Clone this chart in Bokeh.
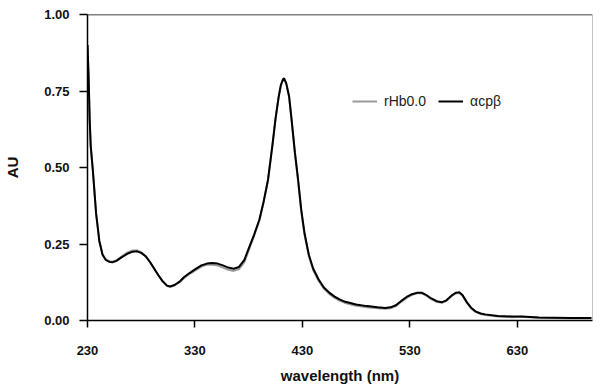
from bokeh.plotting import figure
from bokeh.models import FixedTicker, Legend, LegendItem, Span, NumeralTickFormatter
from bokeh.embed import file_html
from bokeh.resources import INLINE

# Absorbance spectra (wavelength in nm, absorbance in AU)
wavelength = [230, 231, 232, 233, 235, 238, 241, 244, 247, 250, 253, 257, 262, 267, 272,
              276, 280, 284, 288, 292, 296, 300, 304, 307, 311, 316, 320, 325, 330, 336,
              341, 346, 351, 356, 361, 366, 371, 376, 380, 385, 390, 394, 398, 402, 405,
              408, 410, 412, 413, 415, 417.6, 420, 423, 426, 429, 432, 436, 440, 445, 450,
              455, 460, 465, 470, 480, 490, 500, 507, 512, 517, 522, 527, 532, 537, 541,
              545, 550, 555, 560, 564, 569, 573, 576, 579, 583, 587, 591, 596, 600, 612,
              625, 634, 650, 665, 680, 699]
acpb = [0.90, 0.80, 0.66, 0.57, 0.49, 0.35, 0.26, 0.215, 0.198, 0.192, 0.190, 0.195, 0.207, 0.218, 0.225,
        0.226, 0.221, 0.210, 0.192, 0.170, 0.148, 0.128, 0.114, 0.111, 0.116, 0.128, 0.142, 0.155, 0.167, 0.180,
        0.186, 0.188, 0.186, 0.180, 0.173, 0.169, 0.175, 0.198, 0.235, 0.280, 0.330, 0.390, 0.460, 0.570, 0.660,
        0.733, 0.770, 0.789, 0.791, 0.775, 0.733, 0.655, 0.550, 0.460, 0.360, 0.285, 0.215, 0.170, 0.135, 0.108,
        0.091, 0.078, 0.068, 0.061, 0.052, 0.047, 0.043, 0.041, 0.043, 0.050, 0.064, 0.077, 0.086, 0.091, 0.091,
        0.084, 0.072, 0.063, 0.060, 0.066, 0.082, 0.091, 0.092, 0.083, 0.060, 0.042, 0.030, 0.023, 0.020, 0.015,
        0.013, 0.013, 0.010, 0.009, 0.008, 0.008]
rhb00 = [0.90, 0.80, 0.66, 0.57, 0.49, 0.35, 0.26, 0.216, 0.200, 0.194, 0.192, 0.197, 0.210, 0.222, 0.229,
         0.229, 0.223, 0.211, 0.192, 0.169, 0.147, 0.127, 0.113, 0.110, 0.115, 0.126, 0.139, 0.152, 0.163, 0.176,
         0.182, 0.183, 0.180, 0.173, 0.166, 0.162, 0.168, 0.191, 0.229, 0.276, 0.327, 0.388, 0.458, 0.568, 0.658,
         0.731, 0.768, 0.787, 0.789, 0.773, 0.731, 0.652, 0.547, 0.456, 0.355, 0.280, 0.210, 0.165, 0.130, 0.104,
         0.087, 0.074, 0.064, 0.057, 0.048, 0.043, 0.040, 0.038, 0.040, 0.047, 0.061, 0.074, 0.084, 0.089, 0.089,
         0.082, 0.070, 0.061, 0.058, 0.064, 0.080, 0.089, 0.090, 0.081, 0.058, 0.040, 0.028, 0.021, 0.018, 0.013,
         0.011, 0.012, 0.009, 0.008, 0.007, 0.007]

x_ticks = [230, 330, 430, 530, 630]
y_ticks = [0.0, 0.25, 0.5, 0.75, 1.0]

p = figure(frame_width=505, frame_height=306, x_range=(230, 700), y_range=(0, 1.0),
           output_backend="svg", toolbar_location=None,
           min_border_left=87, min_border_right=1, min_border_top=14, min_border_bottom=60)
p.outline_line_color = None
p.xgrid.visible = False
p.ygrid.visible = False
p.background_fill_color = "white"
p.border_fill_color = "white"

g = p.line(wavelength, rhb00, line_color="#9a9a9a", line_width=2)
b = p.line(wavelength, acpb, line_color="black", line_width=2)

# top and right frame lines
p.add_layout(Span(location=1.0, dimension="width", line_color="black", line_width=1.5))
p.add_layout(Span(location=700, dimension="height", line_color="#888888", line_width=1))

for ax in (p.xaxis[0], p.yaxis[0]):
    ax.axis_line_color = "black"
    ax.axis_line_width = 1.5
    ax.major_tick_line_color = "black"
    ax.major_tick_line_width = 1.5
    ax.major_tick_in = 0
    ax.minor_tick_line_color = None
    ax.major_label_text_font = "Liberation Sans"
    ax.major_label_text_font_style = "bold"
    ax.major_label_text_font_size = "13px"
    ax.major_label_text_color = "#111111"
    ax.axis_label_text_font = "Liberation Sans"
    ax.axis_label_text_font_style = "bold"
    ax.axis_label_text_font_size = "15px"
    ax.axis_label_text_color = "#111111"

p.xaxis.ticker = FixedTicker(ticks=x_ticks)
p.yaxis.ticker = FixedTicker(ticks=y_ticks)
p.yaxis.formatter = NumeralTickFormatter(format="0.00")
p.xaxis.major_tick_out = 7
p.yaxis.major_tick_out = 8
p.xaxis.major_label_standoff = 18
p.yaxis.major_label_standoff = 10
p.xaxis.axis_label = "wavelength (nm)"
p.yaxis.axis_label = "AU"
p.xaxis.axis_label_standoff = 9
p.yaxis.axis_label_standoff = 20

legend = Legend(items=[LegendItem(label="rHb0.0", renderers=[g]),
                       LegendItem(label="αcpβ", renderers=[b])],
                orientation="horizontal", location=(265, 209),
                border_line_color=None, background_fill_alpha=0,
                padding=0, margin=0, spacing=12, label_standoff=7,
                glyph_width=25, glyph_height=20,
                label_text_font="Liberation Sans", label_text_font_size="14px",
                label_text_color="#222222")
p.add_layout(legend)

open("out.html", "w").write(file_html(p, INLINE))
